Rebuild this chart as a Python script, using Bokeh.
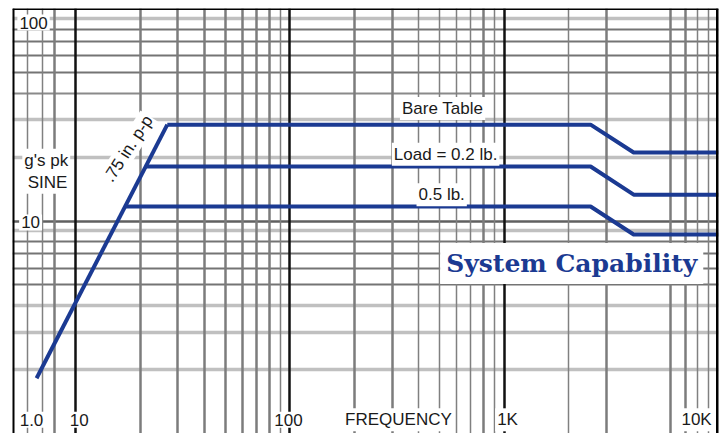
from bokeh.plotting import figure
from bokeh.models import Grid, FixedTicker, Label, Span, Range1d
from bokeh.embed import file_html
from bokeh.resources import INLINE

# ---- data ----
disp_freq = [6.58, 26.8]
disp_g = [1.82, 28.4]

bare_freq = [26.8, 2530, 4020, 10000]
bare_g = [28.4, 28.4, 21.0, 21.0]

load02_freq = [21.3, 2530, 4020, 10000]
load02_g = [18.05, 18.05, 13.3, 13.3]

load05_freq = [17.0, 2530, 4020, 10000]
load05_g = [11.7, 11.7, 8.64, 8.64]

x_black = [10, 100, 1000]
x_heavy = [8, 20, 30, 40, 50, 60, 70, 80, 200, 300, 800, 3000, 6000, 7000]
x_light = [6, 7, 90, 400, 500, 600, 700, 900, 2000, 8000, 9000]

y_dark = [80, 70, 60, 50, 8, 7, 6, 5]
y_ten = [10]
y_mid = [40]
y_pale = [90, 30, 20, 9, 4, 3, 2]

x_tick_labels = [(6.23, "1.0"), (10.4, "10"), (98.6, "100"), (321, "FREQUENCY"),
                 (1037, "1K"), (7900, "10K")]
y_tick_labels = [(6.37, 85.9, "100"), (6.17, 9.84, "10")]

BLUE = "#1b3a92"
FONT = "Liberation Sans"

p = figure(width=723, height=433, x_axis_type="log", y_axis_type="log",
           x_range=Range1d(5.08, 10000), y_range=Range1d(1, 100),
           output_backend="svg", toolbar_location=None,
           min_border_left=12, min_border_right=5, min_border_top=8, min_border_bottom=0)
p.xaxis.visible = False
p.yaxis.visible = False
p.xgrid.visible = False
p.ygrid.visible = False
p.outline_line_color = None
p.background_fill_color = "white"
p.border_fill_color = "white"


def add_grid(dim, ticks, color, width):
    g = Grid(dimension=dim, ticker=FixedTicker(ticks=ticks),
             grid_line_color=color, grid_line_width=width)
    p.add_layout(g)


add_grid(1, y_pale, "#c0c0c0", 3.5)
add_grid(1, y_mid, "#8a8a8a", 2)
add_grid(1, y_dark, "#747474", 2)
add_grid(1, y_ten, "#606060", 2.5)
add_grid(0, x_light, "#808080", 1.5)
add_grid(0, x_heavy, "#7c7c7c", 2.5)
add_grid(0, x_black, "#111111", 2.5)

# borders
p.add_layout(Span(location=5.08, dimension="height", line_color="black", line_width=4))
p.add_layout(Span(location=10000, dimension="height", line_color="black", line_width=5))
p.add_layout(Span(location=100, dimension="width", line_color="black", line_width=3))

# curves
for fx, gy in [(disp_freq, disp_g), (bare_freq, bare_g),
               (load02_freq, load02_g), (load05_freq, load05_g)]:
    p.line(fx, gy, line_color=BLUE, line_width=4, line_join="round")


def lab(x, y, text, **kw):
    opts = dict(text_font=FONT, text_font_size="17px", text_color="#1a1a1a",
                text_align="center", text_baseline="middle",
                background_fill_color="white", padding=2)
    opts.update(kw)
    p.add_layout(Label(x=x, y=y, text=text, **opts))


for x, t in x_tick_labels:
    lab(x, 1.16, t)
for x, y, t in y_tick_labels:
    lab(x, y, t)

lab(7.3, 19.3, "g's pk")
lab(7.4, 15.2, "SINE")

lab(516, 33.8, "Bare Table")
lab(533, 20.6, "Load = 0.2 lb.")
lab(511, 13.3, "0.5 lb.")

lab(17.6, 21.9, ".75 in. p-p", angle=57, angle_units="deg", padding=1)

lab(2066, 6.31, "System Capability", text_font="DejaVu Serif", text_font_style="bold",
    text_font_size="25px", text_color=BLUE, padding=6)

open("out.html", "w").write(file_html(p, INLINE))
